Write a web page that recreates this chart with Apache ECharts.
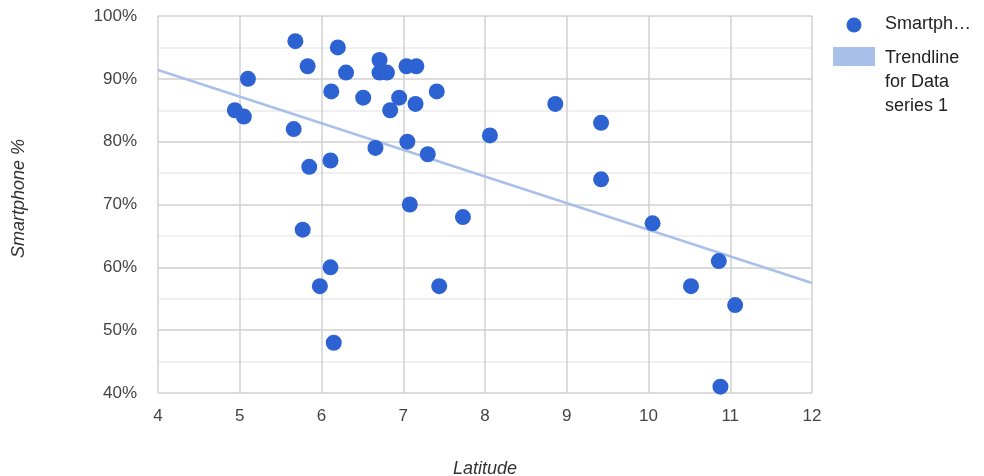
<!DOCTYPE html>
<html><head><meta charset="utf-8">
<script src="https://cdn.jsdelivr.net/npm/echarts@6/dist/echarts.min.js"></script>
<style>html,body{margin:0;padding:0;background:#fff}#c{width:984px;height:476px}</style>
</head><body><div id="c"></div>
<script>
const latitude = [5.68,6.20,5.83,6.30,6.71,6.71,6.80,7.04,7.16,5.10,6.12,6.51,6.95,6.84,7.15,7.41,4.94,5.05,5.66,6.66,7.05,7.30,5.85,6.11,7.08,7.73,8.06,5.77,6.11,5.98,7.44,6.15,8.86,9.42,9.42,10.05,10.86,10.52,11.06,10.88];
const smartphonePct = [96,95,92,91,93,91,91,92,92,90,88,87,87,85,86,88,85,84,82,79,80,78,76,77,70,68,81,66,60,57,57,48,86,83,74,67,61,57,54,41];
const trendX = [4, 12];
const trendY = [91.4, 57.5];
const xTicks = [4,5,6,7,8,9,10,11,12];
const yTicks = [40,50,60,70,80,90,100];

const pts = latitude.map((x,i)=>[x, smartphonePct[i]]);
const trend = trendX.map((x,i)=>[x, trendY[i]]);
const font = 'Liberation Sans, Arial, sans-serif';
const chart = echarts.init(document.getElementById('c'));
chart.setOption({
  animation:false,
  textStyle:{fontFamily:font},
  grid:{left:158,right:172,top:16,bottom:83,outerBoundsMode:'none',containLabel:false},
  xAxis:{type:'value',min:xTicks[0],max:xTicks[xTicks.length-1],interval:1,
    name:'Latitude',nameLocation:'middle',nameGap:67,
    nameTextStyle:{fontStyle:'italic',fontSize:18,color:'#333',fontFamily:font},
    axisLine:{show:false},axisTick:{show:false},
    axisLabel:{fontSize:17,color:'#444',margin:15,fontFamily:font},
    splitLine:{show:true,lineStyle:{color:'#d0d0d0',width:1.5}}},
  yAxis:{type:'value',min:yTicks[0],max:yTicks[yTicks.length-1],interval:10,
    name:'Smartphone %',nameLocation:'middle',nameGap:130,
    nameTextStyle:{fontStyle:'italic',fontSize:18,color:'#333',fontFamily:font,padding:[0,0,0,12]},
    axisLine:{show:false},axisTick:{show:false},
    axisLabel:{fontSize:17,color:'#444',margin:21,formatter:'{value}%',fontFamily:font,padding:[6,0,0,0]},
    splitLine:{show:true,lineStyle:{color:'#d0d0d0',width:1.5}},
    minorTick:{show:false,splitNumber:2},
    minorSplitLine:{show:true,lineStyle:{color:'#ececec',width:1.5}}},
  series:[
    {name:'Trendline for Data series 1',type:'line',data:trend,showSymbol:false,
      lineStyle:{color:'#a9c1ea',width:2.5},z:1,silent:true},
    {name:'Smartphone %',type:'scatter',data:pts,symbolSize:16,
      itemStyle:{color:'#2d62d3',opacity:1},z:3}
  ],
  graphic:[
    {type:'circle',shape:{cx:854,cy:25,r:7.5},style:{fill:'#2d62d3'}},
    {type:'text',left:885,top:15,style:{text:'Smartph…',font:'18px '+font,fill:'#222'}},
    {type:'rect',shape:{x:833,y:47,width:42,height:19},style:{fill:'#a9c1ea'}},
    {type:'text',left:885,top:46,style:{text:'Trendline\nfor Data\nseries 1',font:'18px '+font,fill:'#222',lineHeight:24}}
  ]
});
</script></body></html>
